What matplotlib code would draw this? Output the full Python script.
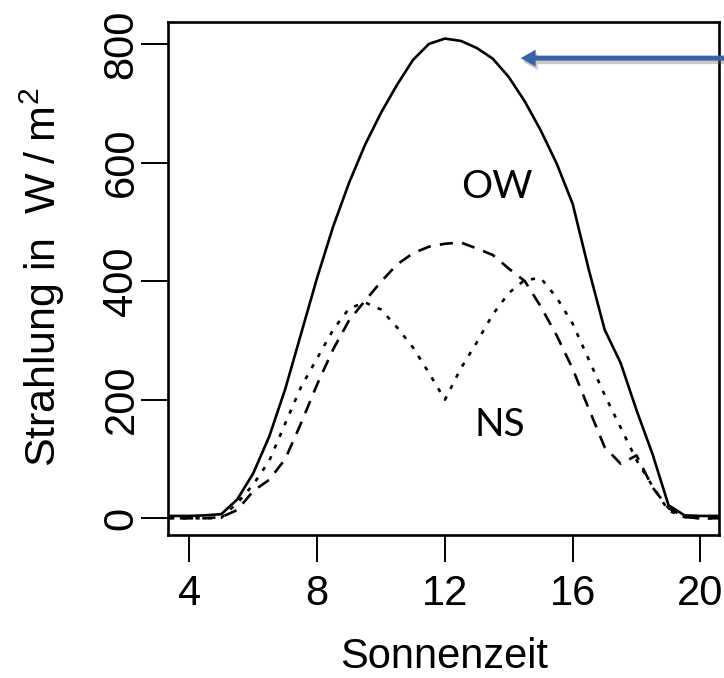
import matplotlib
matplotlib.use('Agg')
import matplotlib.pyplot as plt
import matplotlib.patheffects as pe

plt.rcParams['font.family'] = ['Liberation Sans', 'DejaVu Sans']
plt.rcParams['mathtext.fontset'] = 'custom'
plt.rcParams['mathtext.rm'] = 'Liberation Sans'
plt.rcParams['mathtext.it'] = 'Liberation Sans:italic'

# solar time (hours) and irradiance in W/m^2
hours = [3.0, 3.5, 4.0, 4.5, 5.0, 5.5, 6.0, 6.5, 7.0, 7.5, 8.0, 8.5,
         9.0, 9.5, 10.0, 10.5, 11.0, 11.5, 12.0, 12.5, 13.0, 13.5, 14.0, 14.5,
         15.0, 15.5, 16.0, 16.5, 17.0, 17.5, 18.0, 18.5, 19.0, 19.5, 20.0, 20.5, 21.0]
ow = [4, 4, 4, 5, 7, 32, 76, 138, 218, 312, 406, 492,
      566, 630, 684, 731, 773, 800, 809, 805, 793, 775, 744, 703,
      654, 598, 530, 420, 318, 262, 182, 108, 22, 5, 4, 4, 4]
ns_dashed = [0, 0, 0, 0, 2, 14, 46, 65, 100, 161, 226, 285,
             334, 367, 399, 428, 447, 458, 463, 465, 455, 444, 421, 400,
             357, 308, 252, 185, 120, 92, 106, 52, 17, 2, 0, 0, 0]
ns_dotted = [0, 0, 0, 0, 1, 26, 57, 97, 160, 222, 270, 318,
             354, 364, 352, 322, 288, 245, 200, 253, 297, 344, 380, 402,
             405, 372, 328, 268, 208, 153, 98, 54, 13, 2, 0, 0, 0]

xticks = [4, 8, 12, 16, 20]
yticks = [0, 200, 400, 600, 800]

fig = plt.figure(figsize=(7.24, 6.78), dpi=100)
ax = fig.add_axes([0.2325, 0.2102, 0.7606, 0.7574])

ax.plot(hours, ow, color='black', lw=1.9, solid_joinstyle='round')
ax.plot(hours, ns_dashed, color='black', lw=1.9, linestyle=(0, (5, 3.5)))
ax.plot(hours, ns_dotted, color='black', lw=1.9, linestyle=(0, (1.6, 3.2)))

ax.set_xlim(3.34, 20.58)
ax.set_ylim(-29, 837)
ax.set_xticks(xticks)
ax.set_yticks(yticks)
ax.tick_params(direction='out', length=19.4, width=1.4, labelsize=30)
ax.tick_params(axis='x', pad=8.6)
ax.tick_params(axis='y', pad=0, labelrotation=90)
for lab in ax.get_yticklabels():
    lab.set_va('center')
for sp in ax.spines.values():
    sp.set_linewidth(1.9)

ax.text(13.62, 540, 'OW', family=['Lato', 'DejaVu Sans'], fontsize=28,
        ha='center', va='baseline')
ax.text(13.72, 139, 'NS', family=['Lato', 'DejaVu Sans'], fontsize=28,
        ha='center', va='baseline')

# blue pointer arrow coming in from the right edge
arrow_tip = (14.37, 776)
arrow_tail = (21.5, 776)
ann = ax.annotate('', xy=arrow_tip, xytext=arrow_tail, annotation_clip=False,
                  arrowprops=dict(arrowstyle='simple,head_length=0.54,head_width=0.61,tail_width=0.18',
                                  mutation_scale=20, facecolor='#3a62a6', edgecolor='none',
                                  shrinkA=0, shrinkB=0))
ann.arrow_patch.set_path_effects([
    pe.SimplePatchShadow(offset=(1.5, -2.5), shadow_rgbFace='0.4', alpha=0.35),
    pe.Normal()])

fig.text((168.3 + 719) / 2 / 724, 10 / 678, 'Sonnenzeit', ha='center', va='baseline', fontsize=30)
fig.text(42 / 724, 1 - 277 / 678, r'Strahlung in  $\mathrm{W\;/\;m^{2}}$', rotation=90,
         ha='center', va='center', fontsize=31)

fig.savefig('out.png', dpi=100)
